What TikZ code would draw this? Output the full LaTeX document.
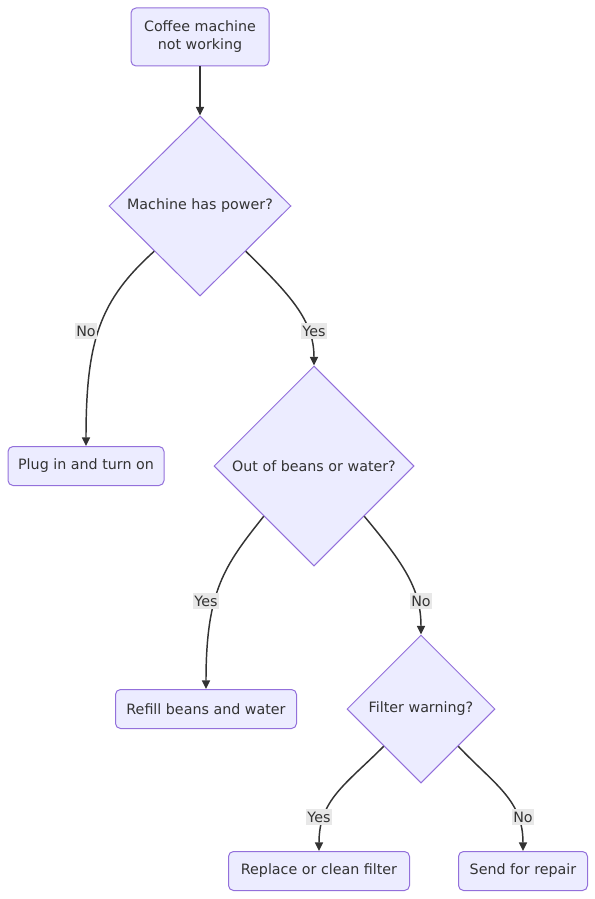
\documentclass[tikz,border=0pt]{standalone}
\usepackage{fontspec}
\setmainfont{DejaVu Sans}
\usetikzlibrary{shapes.geometric,arrows.meta}
\definecolor{nodefill}{HTML}{ECECFF}
\definecolor{nodeline}{HTML}{9370DB}
\definecolor{edgecol}{HTML}{333333}
\definecolor{lblbg}{HTML}{E8E8E8}
\begin{document}
\begin{tikzpicture}[x=0.75pt,y=-0.75pt,
  txt/.style={text=edgecol, font=\fontsize{10.7}{13.5}\selectfont},
  box/.style={txt, draw=nodeline, fill=nodefill, rounded corners=3.75pt, line width=0.75pt, align=center, inner sep=0pt, minimum height=29.25pt},
  dia/.style={txt, draw=nodeline, fill=nodefill, diamond, line width=0.75pt, inner sep=0pt, align=center},
  lbl/.style={txt, fill=lblbg, inner xsep=1pt, inner ysep=2pt},
  conn/.style={draw=edgecol, line width=1.1pt, -{Triangle[length=6.5pt,width=6pt]}}
]
\useasboundingbox (0,0) rectangle (595,899);
\node[box, minimum width=103.5pt, minimum height=43.5pt] (start) at (200,37) {Coffee machine\\not working};
\node[dia, minimum width=136.5pt, minimum height=135pt] (d1) at (200,206) {Machine has power?};
\node[box, minimum width=117pt] (plug) at (86,466) {Plug in and turn on};
\node[dia, minimum width=150pt, minimum height=150pt] (d2) at (314,466) {Out of beans or water?};
\node[box, minimum width=135.75pt] (refill) at (206,709) {Refill beans and water};
\node[dia, minimum width=111pt, minimum height=111pt] (d3) at (421,709) {Filter warning?};
\node[box, minimum width=135.75pt] (replace) at (319,871) {Replace or clean filter};
\node[box, minimum width=96.75pt] (send) at (523,871) {Send for repair};

\draw[conn] (start.south) -- (d1.north);
\draw[conn] (d1.south west) .. controls (100,300) and (86,340) .. (plug.north);
\draw[conn] (d1.south east) .. controls (290,295) and (314,320) .. (d2.north);
\draw[conn] (d2.south west) .. controls (225,565) and (206,590) .. (refill.north);
\draw[conn] (d2.south east) .. controls (405,565) and (421,590) .. (d3.north);
\draw[conn] (d3.south west) .. controls (345,785) and (319,800) .. (replace.north);
\draw[conn] (d3.south east) .. controls (495,785) and (523,800) .. (send.north);

\node[lbl] (l1) at (86,331) {No};
\node[lbl] (l2) at (314,331) {Yes};
\node[lbl] (l3) at (206,601) {Yes};
\node[lbl] (l4) at (421,601) {No};
\node[lbl] (l5) at (319,817) {Yes};
\node[lbl] (l6) at (523,817) {No};
\end{tikzpicture}
\end{document}
